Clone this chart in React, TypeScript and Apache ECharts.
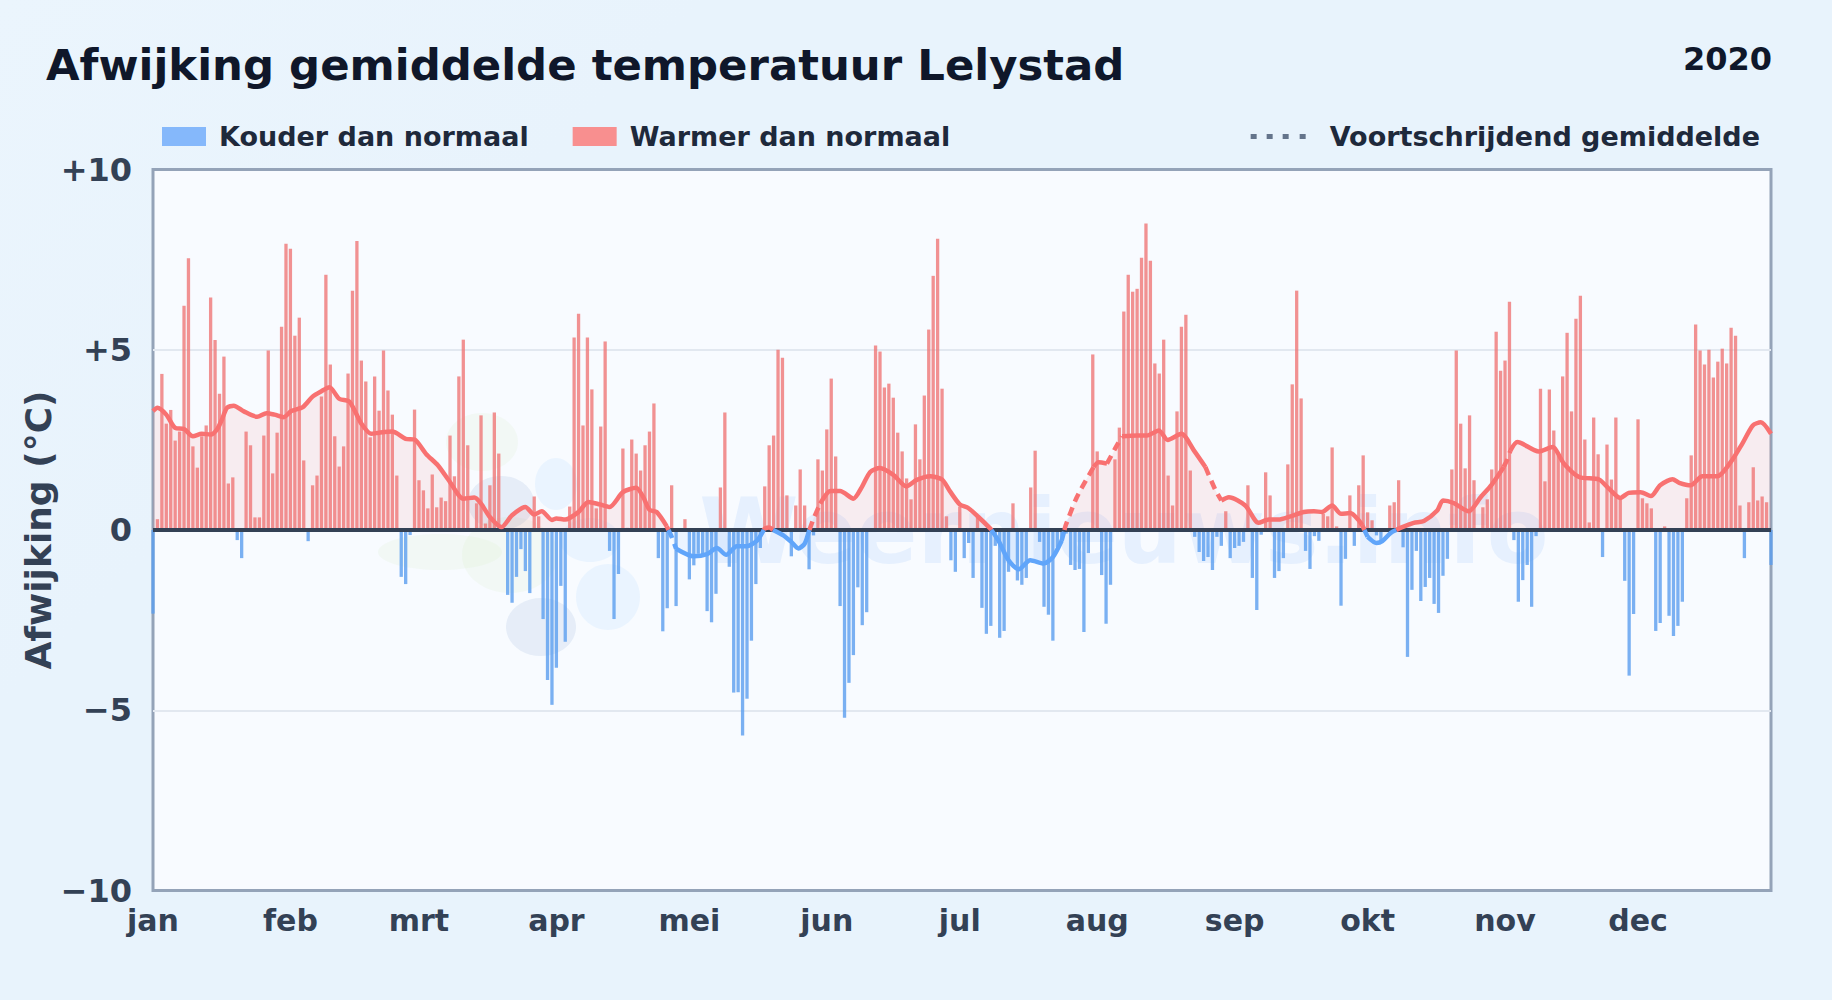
import React, { useEffect, useRef } from "react";
import * as echarts from "echarts";

const FONT = '"DejaVu Sans", sans-serif';
const monthLabels = ["jan", "feb", "mrt", "apr", "mei", "jun", "jul", "aug", "sep", "okt", "nov", "dec"];
const monthStarts = [0, 31, 60, 91, 121, 152, 182, 213, 244, 274, 305, 335];
const yearLabel = "2020";
const titleText = "Afwijking gemiddelde temperatuur Lelystad";

// daily deviation (°C), day 0 = 1 jan 2020
const deviation = [
  -2.32, 0.3, 4.33, 2.95, 3.33, 2.48, 2.73, 6.22, 7.54, 2.32,
  1.73, 2.6, 2.9, 6.45, 5.27, 3.78, 4.81, 1.29, 1.46, -0.28,
  -0.78, 2.73, 2.35, 0.35, 0.35, 2.62, 4.98, 1.57, 2.7, 5.64,
  7.94, 7.8, 5.39, 5.89, 1.93, -0.31, 1.24, 1.51, 3.7, 7.08,
  4.59, 2.6, 1.76, 2.32, 4.34, 6.64, 8.02, 4.7, 4.12, 2.57,
  4.26, 3.31, 4.98, 3.87, 3.2, 1.51, -1.3, -1.5, -0.14, 3.34,
  1.38, 1.1, 0.6, 1.54, 0.63, 0.9, 0.8, 2.62, 1.49, 4.26,
  5.28, 2.35, 0.02, 0.74, 3.18, 0.18, 1.24, 3.26, 2.12, 0.02,
  -1.8, -2.02, -1.3, -0.53, -1.14, -1.75, 0.93, 0.38, -2.47, -4.16,
  -4.85, -3.82, -1.55, -3.1, 0.65, 5.34, 6.0, 2.9, 5.34, 3.9,
  0.6, 2.87, 5.23, -0.58, -2.47, -1.22, 2.26, 0.06, 2.51, 2.12,
  1.65, 2.35, 2.73, 3.51, -0.78, -2.81, -2.17, 1.24, -2.11, 0.02,
  0.3, -1.37, -0.98, -0.66, -0.75, -2.25, -2.56, -1.77, 1.18, 3.26,
  -1.02, -4.51, -4.5, -5.7, -4.68, -3.07, -1.5, -0.5, 1.21, 2.35,
  2.62, 5.0, 4.78, 0.96, -0.73, 0.68, 1.68, 0.68, -1.09, -0.15,
  1.96, 1.65, 2.79, 4.2, 2.04, -2.11, -5.21, -4.24, -3.47, -1.59,
  -2.64, -2.28, 0.02, 5.12, 4.95, 3.95, 4.06, 3.67, 2.7, 2.18,
  1.43, 0.85, 2.93, 1.96, 3.73, 5.56, 7.05, 8.08, 3.92, 0.38,
  -0.84, -1.16, 0.65, -0.78, -0.36, -1.33, 0.4, -2.16, -2.88, -2.66,
  -0.44, -2.99, -2.8, -1.16, 0.74, -1.4, -1.52, -1.33, 1.18, 2.2,
  -0.33, -2.13, -2.35, -3.07, -0.47, -0.3, -0.1, -0.97, -1.11, -1.08,
  -2.83, -0.64, 4.87, 2.18, -1.25, -2.6, -1.52, 1.96, 2.84, 6.06,
  7.08, 6.61, 6.69, 7.55, 8.5, 7.47, 4.62, 4.34, 5.28, 1.51,
  0.68, 3.29, 5.64, 5.97, 1.65, -0.19, -0.61, -0.86, -0.75, -1.11,
  -0.19, -0.44, 0.52, -0.78, -0.5, -0.44, -0.33, 1.24, -1.33, -2.22,
  -0.13, 1.6, 0.96, -1.33, -1.14, -0.78, 1.82, 4.04, 6.64, 3.65,
  -0.58, -1.08, -0.17, -0.3, 0.45, 0.38, 2.29, 0.1, -2.1, -0.8,
  0.96, -0.44, 1.24, 2.07, 0.49, 0.27, -0.15, -0.29, 0.02, 0.68,
  0.77, 1.38, -0.48, -3.52, -1.66, -0.58, -1.97, -1.58, -1.33, -2.05,
  -2.3, -1.27, -0.8, 1.68, 4.98, 2.95, 1.71, 3.18, 1.38, 0.02,
  0.63, 0.85, 1.68, 5.5, 4.42, 4.7, 6.33, -0.28, -1.99, -1.39,
  -0.97, -2.13, -0.17, 3.92, 1.35, 3.9, 2.76, 2.07, 4.26, 5.47,
  3.29, 5.86, 6.5, 2.51, 0.21, 3.12, 2.1, -0.75, 2.37, 1.4,
  3.12, 0.9, -1.41, -4.04, -2.33, 3.07, 0.88, 0.74, 0.6, -2.8,
  -2.58, 0.1, -2.38, -2.94, -2.66, -1.99, 0.88, 2.07, 5.7, 4.98,
  4.59, 5.0, 4.23, 4.67, 5.03, 4.62, 5.61, 5.39, 0.68, -0.78,
  0.77, 1.74, 0.82, 0.93, 0.77, -0.97,
];

// moving average, read at these days
const avgDays = [
  0, 1, 3, 5, 7, 9, 11, 13, 14.5, 15.6, 16.7, 18.2, 20.5, 23.5, 25.6, 27.4, 29.5, 31.2, 33.8, 36, 38, 39.8,
  42, 44.2, 45.5, 47, 49.2, 51, 54, 57, 59, 61.6, 64.3, 67, 70, 72.5, 74, 76, 78.6, 81, 84, 86, 87.7, 90, 91,
  93, 96, 98.2, 100.8, 103, 106, 109, 110.6, 112, 113.6, 115.9, 117, 118, 122, 125, 127.2, 129.3, 131.7, 133.9,
  136.2, 138, 139, 140, 142.2, 144, 145.6, 147, 147.9, 149, 150.5, 152.8, 155, 158, 159.9, 161.8, 164, 167, 170,
  172.3, 175.3, 178, 179.8, 182, 183.9, 186.2, 188.9, 190.7, 193, 195.3, 197.9, 200.9, 203, 205, 205.9, 208.4,
  212.2, 213.3, 215.2, 217, 218.6, 222, 224.2, 226.9, 228.9, 232, 234.8, 237.4, 239.7, 241, 242.7, 246.4, 249.4,
  251.7, 253.9, 256.4, 259.6, 261.9, 263.7, 266, 268, 270.1, 272, 272.8, 274, 276, 277.3, 279.2, 281.4, 284.4,
  286.7, 289.7, 291, 293.4, 296.8, 299.5, 302, 304.7, 305.5, 306.2, 307.8, 312.6, 315.7, 318.3, 321.7, 326.2,
  328.5, 331, 332.9, 335.6, 337.9, 340, 342.8, 344.3, 346.9, 349.5, 352.9, 355.9, 358.5, 360.9, 362.7, 365,
];
const avgValues = [
  3.3, 3.39, 3.2, 2.83, 2.8, 2.6, 2.67, 2.65, 2.8, 3.08, 3.39, 3.45, 3.29, 3.14, 3.24, 3.2, 3.13, 3.3, 3.41, 3.7, 3.85, 3.96,
  3.64, 3.57, 3.31, 2.95, 2.67, 2.7, 2.73, 2.53, 2.51, 2.11, 1.79, 1.33, 0.87, 0.9, 0.73, 0.36, 0.08, 0.41, 0.64, 0.43, 0.52, 0.28, 0.32,
  0.29, 0.5, 0.78, 0.71, 0.64, 1.05, 1.17, 0.91, 0.56, 0.5, 0.1, -0.19, -0.52, -0.73, -0.67, -0.5, -0.69, -0.45, -0.45,
  -0.3, 0.04, 0.07, -0.01, -0.15, -0.33, -0.51, -0.38, -0.06, 0.31, 0.73, 1.08, 1.08, 0.87, 1.19, 1.61, 1.72, 1.53, 1.21,
  1.39, 1.49, 1.4, 1.07, 0.71, 0.61, 0.36, 0.04, -0.29, -0.84, -1.09, -0.84, -0.93, -0.75, -0.29, 0.13, 0.91,
  1.75, 1.88, 1.84, 2.25, 2.6, 2.62, 2.62, 2.76, 2.5, 2.67, 2.21, 1.75, 1.1, 0.82, 0.91, 0.68, 0.2,
  0.29, 0.29, 0.37, 0.5, 0.52, 0.5, 0.68, 0.45, 0.47, 0.27, 0.13, -0.19, -0.36, -0.31, -0.08, 0.06, 0.2,
  0.25, 0.54, 0.82, 0.75, 0.52, 0.91, 1.26, 1.75, 1.95, 2.2, 2.44, 2.18, 2.3, 1.84, 1.47, 1.4,
  1.14, 0.89, 1.03, 1.05, 0.94, 1.24, 1.41, 1.31, 1.24, 1.49, 1.49, 1.88, 2.39, 2.9, 2.99, 2.67,
];
// stretches where the drawn average line breaks up into dashes
const dashedSpans = [
  [115.9, 118], [147.9, 150.5], [205, 212.2], [215.2, 218.6], [237.4, 241], [272.8, 274], [304.7, 306.2],
];

type P = [number, number];
const avgPoints = (): P[] => {
  const out: P[] = [];
  avgDays.forEach((d, i) => {
    const v = avgValues[i];
    if (i > 0 && v * avgValues[i - 1] < 0) {
      const pd = avgDays[i - 1];
      const pv = avgValues[i - 1];
      out.push([pd + ((d - pd) * pv) / (pv - v), 0]);
    }
    out.push([d, v]);
  });
  return out;
};
const inSpan = (d: number, strict: boolean) =>
  dashedSpans.some(([a, b]) => (strict ? d > a && d < b : d >= a && d <= b));

const App = () => {
  const ref = useRef<HTMLDivElement>(null);
  useEffect(() => {
    document.body.style.margin = "0";
    const chart = echarts.init(ref.current!, null, { renderer: "svg" });
    const pts = avgPoints();
    const signed = (sign: number, keep: (d: number) => boolean) =>
      pts.map(([d, v]) => [d, v * sign >= 0 && keep(d) ? v : null]);
    const line = (name: string, color: string, sign: number, dashed: boolean) => ({
      name,
      type: "line",
      symbol: "none",
      z: 5,
      smooth: 0.25,
      data: signed(sign, (d) => (dashed ? inSpan(d, false) : !inSpan(d, true))),
      lineStyle: { color, width: 4.5, type: dashed ? [9, 6] : "solid", cap: "butt", join: "round" },
      itemStyle: { color },
      silent: true,
    });
    const area = (name: string, color: string, sign: number) => ({
      name,
      type: "line",
      symbol: "none",
      z: 1,
      smooth: 0.25,
      data: signed(sign, () => true),
      lineStyle: { width: 0, opacity: 0 },
      areaStyle: { color, origin: 0 },
      silent: true,
    });
    const blob = (cx: number, cy: number, rx: number, ry: number, fill: string) => ({
      type: "ellipse",
      z: 0,
      silent: true,
      shape: { cx, cy, rx, ry },
      style: { fill },
    });
    const GREEN = "rgba(214,236,190,0.16)";
    const SKY = "rgba(96,180,250,0.09)";
    const SLATE = "rgba(110,150,200,0.13)";
    chart.setOption({
      animation: false,
      backgroundColor: "transparent",
      textStyle: { fontFamily: FONT },
      title: [
        {
          text: titleText,
          left: 41,
          top: 38,
          textStyle: { fontFamily: FONT, fontWeight: "bold", fontSize: 43.4, color: "#0f172a" },
        },
        {
          text: yearLabel,
          right: 55,
          top: 38,
          textStyle: { fontFamily: FONT, fontWeight: "bold", fontSize: 32, color: "#0f172a" },
        },
      ],
      legend: [
        {
          left: 162,
          top: 123,
          padding: 0,
          itemWidth: 44,
          itemHeight: 19,
          itemGap: 44,
          icon: "rect",
          selectedMode: false,
          data: [
            { name: "Kouder dan normaal", itemStyle: { color: "#85b8fb", opacity: 1 } },
            { name: "Warmer dan normaal", itemStyle: { color: "#f88f8f", opacity: 1 } },
          ],
          textStyle: { fontFamily: FONT, fontWeight: "bold", fontSize: 27, color: "#1e293b", padding: [0, 0, 0, 8] },
        },
        {
          right: 72,
          top: 123,
          padding: 0,
          itemWidth: 55,
          itemHeight: 5,
          selectedMode: false,
          data: [
            {
              name: "Voortschrijdend gemiddelde",
              icon: "path://M0 0h6v5H0zM16 0h6v5h-6zM32 0h6v5h-6zM49 0h6v5h-6z",
              itemStyle: { color: "#64748b" },
            },
          ],
          textStyle: { fontFamily: FONT, fontWeight: "bold", fontSize: 27, color: "#1e293b", padding: [0, 0, 0, 19] },
        },
      ],
      grid: {
        left: 153,
        top: 169.5,
        width: 1618,
        height: 721,
        show: true,
        backgroundColor: "#f8fbff",
        borderColor: "#94a3b8",
        borderWidth: 3,
      },
      xAxis: {
        type: "value",
        min: 0,
        max: 365,
        axisLine: { show: false, onZero: false },
        axisTick: { show: false },
        splitLine: { show: false },
        axisLabel: {
          customValues: monthStarts,
          formatter: (v: number) => monthLabels[monthStarts.indexOf(v)] ?? "",
          margin: 15,
          fontFamily: FONT,
          fontWeight: "bold",
          fontSize: 30,
          color: "#334155",
        },
      },
      yAxis: {
        type: "value",
        min: -10,
        max: 10,
        interval: 5,
        name: "Afwijking (°C)",
        nameLocation: "middle",
        nameGap: 97,
        nameMoveOverlap: false,
        nameTextStyle: { fontFamily: FONT, fontWeight: "bold", fontSize: 36, color: "#334155" },
        axisLine: { show: false },
        axisTick: { show: false },
        splitLine: {
          show: true,
          lineStyle: { color: ["#94a3b8", "#e2e8f0", "rgba(0,0,0,0)", "#e2e8f0", "#94a3b8"], width: 2 },
        },
        axisLabel: {
          margin: 21,
          padding: [2, 0, 0, 0],
          fontFamily: FONT,
          fontWeight: "bold",
          fontSize: 32,
          color: "#334155",
          formatter: (v: number) => (v > 0 ? `+${v}` : v < 0 ? `\u2212${-v}` : "0"),
        },
      },
      graphic: {
        elements: [
          blob(482, 442, 36, 29, GREEN),
          blob(440, 552, 62, 18, GREEN),
          blob(510, 555, 48, 38, GREEN),
          blob(501, 503, 33, 27, SLATE),
          blob(556, 484, 21, 26, SKY),
          blob(608, 597, 32, 33, SKY),
          blob(590, 540, 30, 22, SKY),
          blob(541, 627, 35, 29, SLATE),
          {
            type: "text",
            z: 0,
            silent: true,
            style: {
              x: 1124,
              y: 531,
              text: "Weernieuws.info",
              align: "center",
              verticalAlign: "middle",
              fontFamily: FONT,
              fontWeight: "bold",
              fontSize: 90,
              fill: "rgba(59,130,246,0.09)",
            },
          },
        ],
      },
      series: [
        area("warm vlak", "rgba(248,113,113,0.15)", 1),
        area("koud vlak", "rgba(96,165,250,0.12)", -1),
        {
          name: "Kouder dan normaal",
          type: "bar",
          barWidth: 3.3,
          barGap: "-100%",
          clip: false,
          z: 2,
          itemStyle: { color: "#5a9eef", opacity: 0.8 },
          data: deviation.map((v, i) => [i, v < 0 ? v : null]),
        },
        {
          name: "Warmer dan normaal",
          type: "bar",
          barWidth: 3.3,
          barGap: "-100%",
          clip: false,
          z: 2,
          itemStyle: { color: "#ef7777", opacity: 0.8 },
          data: deviation.map((v, i) => [i, v >= 0 ? v : null]),
          markLine: {
            silent: true,
            symbol: "none",
            z: 4,
            label: { show: false },
            lineStyle: { color: "#334155", width: 4, type: "solid" },
            data: [{ yAxis: 0 }],
          },
        },
        line("Voortschrijdend gemiddelde", "#f87171", 1, false),
        line("warm gestippeld", "#f87171", 1, true),
        line("koud", "#60a5fa", -1, false),
        line("koud gestippeld", "#60a5fa", -1, true),
      ],
    });
    return () => chart.dispose();
  }, []);
  return (
    <div
      ref={ref}
      style={{ width: 1832, height: 1000, background: "linear-gradient(135deg,#ebf5fd 0%,#e8f3fc 25%,#e8f3fc 100%)" }}
    />
  );
};

export default App;
